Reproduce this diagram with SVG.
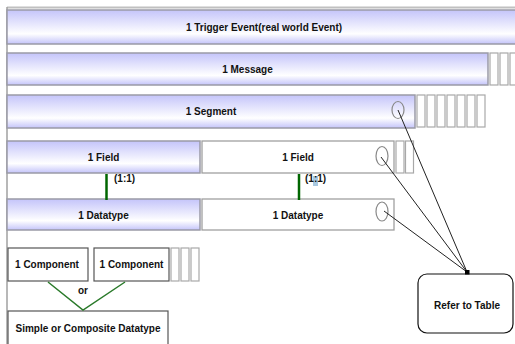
<svg xmlns="http://www.w3.org/2000/svg" width="515" height="344" viewBox="0 0 515 344">
<defs>
<linearGradient id="lav" x1="0" y1="0" x2="0" y2="1">
<stop offset="0" stop-color="#c4c4fa"/>
<stop offset="0.7" stop-color="#ffffff"/>
<stop offset="1" stop-color="#c4c4fa"/>
</linearGradient>
</defs>
<style>
.bar{fill:url(#lav);stroke:#9a9aa6;stroke-width:1.5}
.wbox{fill:#fff;stroke:#a0a0a0;stroke-width:1.3}
.sbox{fill:#fff;stroke:#a8a8a8;stroke-width:1.2}
.dbox{fill:#fff;stroke:#555;stroke-width:1.2}
.ell{fill:none;stroke:#888;stroke-width:1.2}
.t{font-family:"Liberation Sans",Arial,sans-serif;font-size:10px;font-weight:bold;fill:#111;text-anchor:middle}
.tl{font-family:"Liberation Sans",Arial,sans-serif;font-size:10px;font-weight:bold;fill:#111}
.g{stroke:#006600;stroke-width:2.5;fill:none}
.gl{stroke:#2a7a2a;stroke-width:1.5;fill:none}
.c{stroke:#222;stroke-width:1;fill:none}
</style>
<rect width="515" height="344" fill="#fff"/>
<g id="frame">
<line x1="7" y1="7.5" x2="515" y2="7.5" stroke="#c0c0c0" stroke-width="2"/>
<line x1="7" y1="7" x2="7" y2="344" stroke="#a0a0a0" stroke-width="1.5"/>
</g>
<g id="trigger">
<rect class="bar" x="7" y="10" width="515" height="34"/>
<text class="t" x="264" y="30.5">1 Trigger Event(real world Event)</text>
</g>
<g id="message">
<rect class="bar" x="7" y="53" width="481" height="32"/>
<text class="t" x="247.5" y="72.5">1 Message</text>
<rect class="sbox" x="490" y="53" width="8" height="32"/>
<rect class="sbox" x="500" y="53" width="8" height="32"/>
<rect class="sbox" x="510" y="53" width="8" height="32"/>
</g>
<g id="segment">
<rect class="bar" x="7" y="95" width="408" height="33"/>
<text class="t" x="211" y="115">1 Segment</text>
<ellipse class="ell" cx="398" cy="110" rx="6" ry="8.5"/>
<rect class="sbox" x="417" y="95" width="8" height="32"/>
<rect class="sbox" x="427" y="95" width="8" height="32"/>
<rect class="sbox" x="437" y="95" width="8" height="32"/>
<rect class="sbox" x="447" y="95" width="8" height="32"/>
<rect class="sbox" x="457" y="95" width="8" height="32"/>
<rect class="sbox" x="467" y="95" width="8" height="32"/>
<rect class="sbox" x="477" y="95" width="8" height="32"/>
</g>
<g id="field1">
<rect class="bar" x="7" y="141" width="193" height="32"/>
<text class="t" x="103.5" y="161">1 Field</text>
</g>
<g id="field2">
<rect class="wbox" x="202" y="141" width="192" height="32"/>
<text class="t" x="298" y="161">1 Field</text>
<ellipse class="ell" cx="382" cy="156" rx="6" ry="9.5"/>
<rect class="sbox" x="396" y="141" width="8" height="32"/>
<rect class="sbox" x="405.5" y="141" width="8" height="32"/>
</g>
<g id="datatype1">
<rect class="bar" x="7" y="199" width="193" height="31"/>
<text class="t" x="103.5" y="219">1 Datatype</text>
</g>
<g id="datatype2">
<rect class="wbox" x="202" y="199" width="192" height="31"/>
<text class="t" x="298" y="219">1 Datatype</text>
<ellipse class="ell" cx="382" cy="211.5" rx="6" ry="9.5"/>
</g>
<g id="component1">
<rect class="dbox" x="8" y="248" width="80" height="33"/>
<text class="t" x="47" y="268">1 Component</text>
</g>
<g id="component2">
<rect class="dbox" x="94" y="248" width="75" height="33"/>
<text class="t" x="131.5" y="268">1 Component</text>
<rect class="sbox" x="171" y="248" width="8" height="33"/>
<rect class="sbox" x="181" y="248" width="8" height="33"/>
<rect class="sbox" x="191" y="248" width="8" height="33"/>
</g>
<g id="simple">
<rect class="dbox" x="8" y="311" width="160" height="40"/>
<text class="t" x="88" y="331.5">Simple or Composite Datatype</text>
</g>
<g id="refer">
<rect x="418" y="274" width="95" height="59" rx="9" ry="9" fill="#fff" stroke="#111" stroke-width="1.2"/>
<text class="t" x="467" y="308.5">Refer to Table</text>
</g>
<g id="connectors">
<line class="g" x1="106.5" y1="174" x2="106.5" y2="200"/>
<line class="g" x1="299" y1="174" x2="299" y2="200"/>
<rect x="313" y="176" width="5" height="10" fill="#a8c8e0"/>
<text class="tl" x="114" y="182">(1:1)</text>
<text class="tl" x="305" y="182">(1:1)</text>
<polyline class="gl" points="48,282 83,310 125,282"/>
<text class="t" x="83" y="294">or</text>
<line class="c" x1="398" y1="110" x2="467" y2="272"/>
<line class="c" x1="381" y1="157" x2="467" y2="272"/>
<line class="c" x1="384" y1="211" x2="467" y2="272"/>
<rect x="465" y="270" width="4.5" height="4.5" fill="#000"/>
</g>
</svg>
